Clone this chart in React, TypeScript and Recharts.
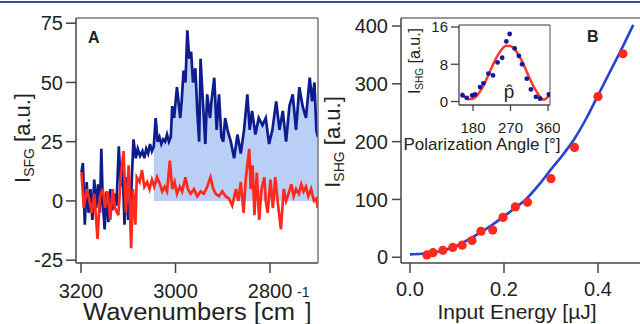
// SFG spectra (A) and SHG power / polarization dependence (B)

import React from "react";
import { ComposedChart, Line, Area, Scatter, XAxis, YAxis } from "recharts";

// panel A, blue trace (wavenumber, signal)
const blueWn = [
  3199, 3196, 3192, 3188, 3184, 3180, 3176, 3172, 3168, 3164,
  3160, 3157, 3154, 3150, 3146, 3142, 3138, 3134, 3130, 3125,
  3120, 3116, 3112, 3108, 3104, 3100, 3094, 3089, 3084, 3080,
  3075, 3070, 3066, 3062, 3058, 3054, 3050, 3046, 3042, 3038,
  3034, 3030, 3026, 3022, 3018, 3014, 3010, 3007, 3003, 2997,
  2990, 2987, 2983, 2979, 2975, 2971, 2967, 2963, 2958, 2954,
  2950, 2947, 2943, 2940, 2937, 2933, 2927, 2924, 2918, 2913,
  2908, 2903, 2899, 2895, 2890, 2883, 2876, 2869, 2862, 2855,
  2848, 2843, 2838, 2831, 2824, 2816, 2809, 2802, 2795, 2787,
  2780, 2773, 2766, 2759, 2752, 2745, 2738, 2731, 2724, 2716,
  2711, 2706, 2702, 2699,
];
const blueSignal = [
  12, 16, -10, 8, -5, 5, -8, 9, -3, 7,
  -5, 22, 0, -12, 4, -9, 5, -4, 3, -2,
  23, 6, 15, -10, 10, -8, 2, 26, 18, 22,
  19, 21, 18, 22, 20, 24, 21, 23, 35, 25,
  27, 24, 26, 25, 28, 25, 27, 40, 35, 48,
  35, 42, 55, 50, 72, 60, 63, 50, 56, 38,
  25, 60, 45, 35, 24, 45, 35, 42, 52, 30,
  45, 27, 25, 35, 30, 25, 18, 28, 20, 30,
  45, 30, 38, 28, 35, 32, 35, 24, 30, 42,
  30, 38, 25, 40, 45, 30, 48, 40, 35, 52,
  42, 50, 30, 27,
];

// panel A, red trace
const redWn = [
  3199, 3194, 3188, 3182, 3177, 3172, 3165, 3160, 3154, 3149,
  3144, 3138, 3133, 3128, 3121, 3116, 3110, 3105, 3099, 3094,
  3090, 3085, 3082, 3076, 3071, 3066, 3060, 3055, 3050, 3045,
  3039, 3033, 3028, 3023, 3018, 3012, 3007, 3002, 2997, 2991,
  2986, 2979, 2974, 2968, 2961, 2954, 2947, 2940, 2933, 2926,
  2920, 2915, 2908, 2901, 2894, 2887, 2880, 2872, 2867, 2862,
  2856, 2851, 2844, 2841, 2837, 2833, 2828, 2823, 2818, 2812,
  2809, 2805, 2799, 2794, 2789, 2784, 2777, 2771, 2766, 2761,
  2755, 2750, 2745, 2739, 2734, 2729, 2724, 2719, 2713, 2707,
  2702, 2699,
];
const redSignal = [
  12, -3, 5, 0, -5, 3, -16, 2, 5, -3,
  4, -8, 5, -3, -6, 10, 21, -5, 15, -20,
  5, -10, 10, 8, 13, 6, 8, 5, 9, 6,
  10, 7, 4, 6, 4, 17, 5, 8, 3, 6,
  4, 10, 5, 3, 5, 2, 4, 3, 6, 10,
  5, 3, 2, 4, 2, 1, -2, 5, 0, 8,
  -5, 10, 22, 5, 15, -6, 12, -8, 5, 10,
  0, -5, 9, -3, 10, 0, -12, 5, 0, 3,
  7, 2, 5, 3, 7, 4, 6, 2, 5, 0,
  1, -3,
];

// shaded band starts here
const fillStart = 3046;

// panel B, power-law fit and measured points
const energyFitX = [0, 0.025, 0.05, 0.075, 0.1, 0.125, 0.15, 0.175, 0.2, 0.225, 0.25, 0.275, 0.3, 0.325, 0.35, 0.375, 0.4, 0.425, 0.45, 0.475];
const energyFitY = [5, 6, 8, 13, 20, 31, 43, 56, 71, 86, 103, 126, 152, 177, 205, 240, 280, 320, 360, 402];
const energyX = [0.036, 0.049, 0.07, 0.091, 0.111, 0.132, 0.151, 0.176, 0.198, 0.224, 0.25, 0.3, 0.35, 0.4, 0.453];
const energyY = [4, 8, 12, 17, 21, 29, 45, 47, 69, 87, 95, 136, 190, 278, 352];

// inset, polarization scan
const angleX = [155, 165, 178, 185, 197, 205, 217, 228, 239, 250, 260, 268, 280, 290, 298, 309, 319, 331, 341, 362];
const angleY = [1.3, 0.8, 1.3, 1.5, 3.1, 3.9, 6.0, 5.6, 8.4, 9.4, 12.9, 14.5, 11.4, 9.8, 8.0, 4.9, 2.6, 1.0, 0.6, 1.5];
const angleFitX = [152, 160, 170, 180, 190, 200, 210, 220, 230, 240, 250, 260, 270, 280, 290, 300, 310, 320, 330, 340, 350, 362];
const angleFitY = [1.9, 1.0, 0.5, 0.6, 1.3, 2.6, 4.3, 6.3, 8.3, 10.0, 11.3, 12.0, 11.9, 11.2, 9.9, 8.2, 6.2, 4.2, 2.5, 1.1, 0.4, 1.2];

const ticksA = [3200, 3000, 2800];
const yTicksA = [-25, 0, 25, 50, 75];
const ticksB = [0, 0.2, 0.4];
const yTicksB = [0, 100, 200, 300, 400];
const ticksInset = [180, 270, 360];
const yTicksInset = [0, 8, 16];

const blueData = blueWn.map((wn, i) => ({ wn, v: blueSignal[i] }));
const redData = redWn.map((wn, i) => ({ wn, v: redSignal[i] }));
const fillData = blueData.filter((d) => d.wn <= fillStart);
const fitData = energyFitX.map((x, i) => ({ x, y: energyFitY[i] }));
const dotData = energyX.map((x, i) => ({ x, y: energyY[i] }));
const polData = angleX.map((x, i) => ({ x, y: angleY[i] }));
const polFit = angleFitX.map((x, i) => ({ x, y: angleFitY[i] }));

const FONT = "'Liberation Sans', Arial, Helvetica, sans-serif";
const tickStyle = { fontSize: 20, fill: "#222", fontFamily: FONT };
const smallTick = { fontSize: 15, fill: "#222", fontFamily: FONT };
const axisColor = "#444";
const frameColor = "#777";

// top/right axes with no ticks close the plot box
const frameTop = (w: number) => (
  <XAxis
    xAxisId="frame"
    orientation="top"
    type="number"
    domain={[0, 1]}
    tick={false}
    tickLine={false}
    height={2}
    stroke={frameColor}
    strokeWidth={w}
  />
);
const frameRight = (w: number) => (
  <YAxis
    yAxisId="frame"
    orientation="right"
    type="number"
    domain={[0, 1]}
    tick={false}
    tickLine={false}
    width={2}
    stroke={frameColor}
    strokeWidth={w}
  />
);

const PanelA = () => (
  <ComposedChart
    width={330}
    height={324}
    margin={{ top: 16, right: 10, bottom: 21, left: 0 }}
  >
    <XAxis
      type="number"
      dataKey="wn"
      domain={[2698.5, 3210.6]}
      allowDataOverflow
      reversed
      ticks={ticksA}
      tick={tickStyle}
      tickSize={10}
      tickMargin={11}
      height={40}
      stroke={axisColor}
      strokeWidth={1.5}
    />
    {frameTop(1.5)}
    <YAxis
      type="number"
      domain={[-26.2, 77.2]}
      allowDataOverflow
      ticks={yTicksA}
      tick={tickStyle}
      tickSize={10}
      tickMargin={3}
      width={76}
      stroke={axisColor}
      strokeWidth={1.5}
    />
    {frameRight(1.5)}
    <Area
      data={fillData}
      dataKey="v"
      baseValue={0}
      type="linear"
      fill="#b9cff5"
      fillOpacity={1}
      stroke="none"
      isAnimationActive={false}
    />
    <Line
      data={blueData}
      dataKey="v"
      type="linear"
      stroke="#0d1d8e"
      strokeWidth={2.7}
      dot={false}
      isAnimationActive={false}
    />
    <Line
      data={redData}
      dataKey="v"
      type="linear"
      stroke="#ff2a1c"
      strokeWidth={2.7}
      dot={false}
      isAnimationActive={false}
    />
  </ComposedChart>
);

const PanelB = () => (
  <ComposedChart
    width={330}
    height={324}
    margin={{ top: 16, right: 10, bottom: 21, left: 0 }}
  >
    <XAxis
      type="number"
      dataKey="x"
      domain={[-0.0191, 0.5106]}
      allowDataOverflow
      ticks={ticksB}
      tickFormatter={(v: number) => v.toFixed(1)}
      tick={tickStyle}
      tickSize={10}
      tickMargin={9}
      height={40}
      stroke={axisColor}
      strokeWidth={1.5}
    />
    {frameTop(1.5)}
    <YAxis
      type="number"
      dataKey="y"
      domain={[-9.9, 413.8]}
      allowDataOverflow
      ticks={yTicksB}
      tick={tickStyle}
      tickSize={9}
      tickMargin={4}
      width={71}
      stroke={axisColor}
      strokeWidth={1.5}
    />
    <Line
      data={fitData}
      dataKey="y"
      type="monotone"
      stroke="#2443d6"
      strokeWidth={2.6}
      dot={false}
      isAnimationActive={false}
    />
    <Scatter
      data={dotData}
      fill="#ff2a1c"
      shape={(p: any) => <circle cx={p.cx} cy={p.cy} r={4.6} fill="#ff2a1c" />}
      isAnimationActive={false}
    />
  </ComposedChart>
);

const Inset = () => (
  <ComposedChart
    width={160}
    height={150}
    margin={{ top: 23, right: 8, bottom: 15, left: 0 }}
  >
    <XAxis
      type="number"
      dataKey="x"
      domain={[146.4, 364.8]}
      allowDataOverflow
      ticks={ticksInset}
      tick={smallTick}
      tickSize={6}
      tickMargin={11}
      height={30}
      stroke={axisColor}
      strokeWidth={1.3}
    />
    {frameTop(1.3)}
    <YAxis
      type="number"
      dataKey="y"
      domain={[-0.75, 16.43]}
      allowDataOverflow
      ticks={yTicksInset}
      tick={smallTick}
      tickSize={8}
      tickMargin={3}
      width={59}
      stroke={axisColor}
      strokeWidth={1.3}
    />
    {frameRight(1.3)}
    <Line
      data={polFit}
      dataKey="y"
      type="monotone"
      stroke="#ff3a2a"
      strokeWidth={2.5}
      dot={false}
      isAnimationActive={false}
    />
    <Scatter
      data={polData}
      shape={(p: any) => <circle cx={p.cx} cy={p.cy} r={2.4} fill="#15189a" />}
      isAnimationActive={false}
    />
  </ComposedChart>
);

// panel letters and axis titles drawn over the charts
const Labels = () => (
  <svg
    width={640}
    height={324}
    style={{ position: "absolute", left: 0, top: 0, pointerEvents: "none", zIndex: 5 }}
    fontFamily={FONT}
  >
    <rect x={0} y={1} width={640} height={2} fill="#3b4a8c" />
    <g fill="#222">
      <text x={88} y={43} fontSize={16} fontWeight="bold">A</text>
      <text x={587} y={42} fontSize={16} fontWeight="bold">B</text>
      <text x={83} y={320} fontSize={23} textLength={212} lengthAdjust="spacingAndGlyphs">
        Wavenumbers [cm
      </text>
      <text x={297} y={297} fontSize={14}>-1</text>
      <text x={305} y={320} fontSize={23}>]</text>
      <text x={517} y={319} fontSize={21} textAnchor="middle">
        Input Energy [µJ]
      </text>
      <text transform="translate(30,138) rotate(-90)" fontSize={22} textAnchor="middle">
        I<tspan fontSize={14} dy={4}>SFG</tspan>
        <tspan dy={-4}> [a.u.]</tspan>
      </text>
      <text transform="translate(340,142) rotate(-90)" fontSize={22} textAnchor="middle">
        I<tspan fontSize={14} dy={4}>SHG</tspan>
        <tspan dy={-4}> [a.u.]</tspan>
      </text>
      <text transform="translate(420,61) rotate(-90)" fontSize={16} textAnchor="middle">
        I<tspan fontSize={10} dy={3}>SHG</tspan>
        <tspan dy={-3}> [a.u.]</tspan>
      </text>
      <text x={482} y={150} fontSize={17} textAnchor="middle">
        Polarization Angle [°]
      </text>
      <text x={509} y={98} fontSize={19} textAnchor="middle">
        {"p\u0302"}
      </text>
    </g>
  </svg>
);

export default function App() {
  return (
    <div
      style={{
        position: "absolute",
        left: 0,
        top: 0,
        width: 640,
        height: 324,
        overflow: "hidden",
        background: "#fff",
        fontFamily: FONT,
      }}
    >
      <div style={{ position: "absolute", left: 0, top: 0 }}>
        <PanelA />
      </div>
      <div style={{ position: "absolute", left: 330, top: 0 }}>
        <PanelB />
      </div>
      <div style={{ position: "absolute", left: 400, top: 0 }}>
        <Inset />
      </div>
      <Labels />
    </div>
  );
}
